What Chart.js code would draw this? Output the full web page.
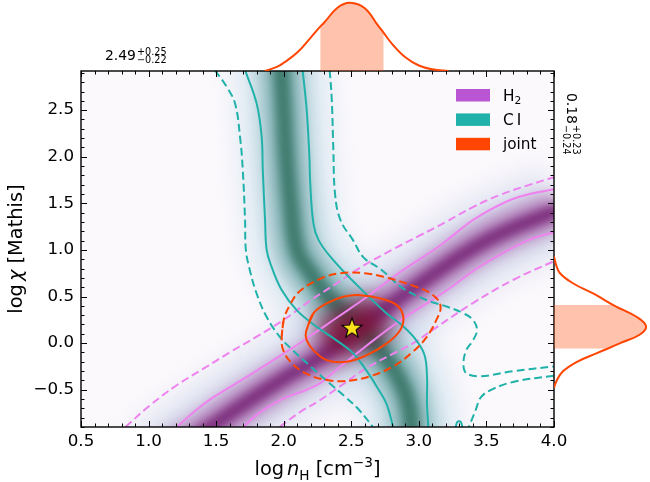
<!DOCTYPE html>
<html><head><meta charset="utf-8">
<script src="https://cdn.jsdelivr.net/npm/chart.js@4.4.1/dist/chart.umd.min.js"></script>
<style>
html,body{margin:0;padding:0;background:#fff;}
#wrap{position:relative;width:650px;height:482px;overflow:hidden;background:#fff;}
#wrap canvas{position:absolute;}
#cMain{left:0;top:0;}
#cTop{left:81px;top:0;}
#cRight{left:554px;top:71px;}
</style></head><body>
<div id="wrap">
<canvas id="cMain" width="650" height="482"></canvas>
<canvas id="cTop" width="473" height="71"></canvas>
<canvas id="cRight" width="96" height="356"></canvas>
</div>
<script>
// ================= DATA =================
const xTickValues = [0.5, 1.0, 1.5, 2.0, 2.5, 3.0, 3.5, 4.0];
const yTickValues = [-0.5, 0.0, 0.5, 1.0, 1.5, 2.0, 2.5];
const xRange = [0.5, 4.0];
const yRange = [-0.9, 2.92];

// H2 contours (68% solid, 95% dashed)
const h2SolidUpperX = [1.21, 1.35, 1.48, 1.73, 1.97, 2.17, 2.40, 2.62, 2.86, 3.16, 3.40, 3.65, 3.82, 4.0];
const h2SolidUpperY = [-0.90, -0.72, -0.58, -0.36, -0.14, 0.05, 0.28, 0.50, 0.76, 1.05, 1.32, 1.52, 1.60, 1.65];
const h2SolidLowerX = [1.70, 1.80, 1.90, 2.02, 2.17, 2.27, 2.37, 2.49, 2.61, 2.86, 3.21, 3.45, 3.80, 4.0];
const h2SolidLowerY = [-0.90, -0.77, -0.67, -0.58, -0.50, -0.43, -0.31, -0.17, -0.03, 0.24, 0.57, 0.82, 1.10, 1.19];
const h2DashUpperX = [0.83, 1.0, 1.2, 1.4, 1.6, 1.8, 2.0, 2.2, 2.4, 2.6, 2.8, 3.0, 3.2, 3.4, 3.6, 3.8, 4.0];
const h2DashUpperY = [-0.90, -0.68, -0.46, -0.28, -0.10, 0.07, 0.25, 0.46, 0.65, 0.84, 1.00, 1.15, 1.30, 1.46, 1.59, 1.69, 1.78];
const h2DashLowerX = [1.97, 2.12, 2.27, 2.45, 2.61, 2.80, 2.96, 3.10, 3.40, 3.70, 4.0];
const h2DashLowerY = [-0.90, -0.74, -0.61, -0.43, -0.27, -0.12, 0.0, 0.14, 0.43, 0.68, 0.88];

// C I contours
const ciSolidLeftX = [1.714, 1.80, 1.837, 1.845, 1.862, 1.874, 1.91, 1.985, 2.096, 2.244, 2.39, 2.515, 2.61, 2.69, 2.76, 2.81];
const ciSolidLeftY = [2.93, 2.57, 2.21, 1.86, 1.32, 1.0, 0.82, 0.57, 0.354, 0.175, 0.03, -0.11, -0.29, -0.47, -0.65, -0.9];
const ciSolidRightX = [2.14, 2.17, 2.19, 2.195, 2.22, 2.26, 2.367, 2.53, 2.76, 2.86, 2.97, 3.04, 3.06, 3.06, 3.07];
const ciSolidRightY = [2.93, 2.5, 2.0, 1.75, 1.28, 1.10, 0.89, 0.64, 0.32, 0.21, 0.05, -0.12, -0.35, -0.65, -0.9];
const ciDashLeftX = [1.49, 1.578, 1.64, 1.677, 1.697, 1.714, 1.72, 1.75, 1.80, 1.874, 1.97, 2.07, 2.19, 2.33, 2.45, 2.56, 2.66];
const ciDashLeftY = [2.93, 2.75, 2.57, 2.21, 1.86, 1.32, 1.0, 0.78, 0.53, 0.28, 0.07, -0.08, -0.24, -0.42, -0.57, -0.72, -0.9];
const ciDashRightX = [2.34, 2.355, 2.367, 2.38, 2.42, 2.515, 2.59, 2.72, 2.88, 3.06, 3.21, 3.33, 3.40, 3.43, 3.40, 3.35, 3.33, 3.35, 3.45, 3.70, 4.0];
const ciDashRightY = [2.93, 2.63, 2.09, 1.60, 1.32, 1.10, 0.92, 0.79, 0.59, 0.46, 0.39, 0.32, 0.25, 0.14, 0.03, -0.08, -0.22, -0.32, -0.355, -0.30, -0.25];
const ciDashLowerX = [4.0, 3.72, 3.55, 3.46, 3.42, 3.37];
const ciDashLowerY = [-0.35, -0.41, -0.49, -0.58, -0.72, -0.9];
const ciSolidBumpX = [3.27, 3.285, 3.31, 3.325];
const ciSolidBumpY = [-0.92, -0.845, -0.845, -0.92];

// joint contours
const jointSolidX = [2.165, 2.219, 2.318, 2.441, 2.565, 2.713, 2.836, 2.885, 2.861, 2.762, 2.614, 2.466, 2.318, 2.219, 2.17, 2.165, 2.219];
const jointSolidY = [0.121, 0.319, 0.426, 0.497, 0.515, 0.48, 0.408, 0.282, 0.139, -0.003, -0.129, -0.2, -0.182, -0.075, 0.032, 0.121, 0.319];
const jointDashX = [1.985, 2.0, 2.05, 2.12, 2.27, 2.42, 2.6, 2.74, 2.95, 3.1, 3.16, 3.13, 3.05, 2.95, 2.81, 2.65, 2.5, 2.34, 2.17, 2.05, 1.995, 1.985, 2.0];
const jointDashY = [0.06, 0.25, 0.42, 0.56, 0.69, 0.75, 0.75, 0.71, 0.62, 0.52, 0.40, 0.25, 0.05, -0.10, -0.25, -0.35, -0.40, -0.40, -0.33, -0.20, -0.07, 0.06, 0.25];

// best-fit point
const bestX = [2.505];
const bestY = [0.165];

// likelihood ridges (density bands)
const ciRidgeX = [1.96, 1.98, 2.0, 2.02, 2.05, 2.1, 2.2, 2.33, 2.5, 2.67, 2.8, 2.89, 2.93, 2.95, 2.97];
const ciRidgeY = [3.3, 2.95, 2.5, 2.0, 1.5, 1.0, 0.75, 0.5, 0.25, 0.0, -0.25, -0.5, -0.7, -0.95, -1.3];
const h2RidgeX = [1.05, 1.4, 1.7, 2.0, 2.27, 2.5, 3.0, 3.5, 4.05, 4.4];
const h2RidgeY = [-1.3, -0.96, -0.66, -0.38, -0.15, 0.1, 0.63, 1.1, 1.44, 1.65];
const jointCoreX = [2.3, 2.5, 2.72];
const jointCoreY = [0.03, 0.16, 0.29];

// marginal posteriors (relative height)
const topCurveX = [1.86, 1.95, 2.00, 2.10, 2.20, 2.27, 2.30, 2.40, 2.49, 2.60, 2.70, 2.74, 2.80, 2.90, 3.00, 3.10, 3.22];
const topCurveY = [0.0, 0.06, 0.12, 0.27, 0.49, 0.65, 0.71, 0.93, 1.00, 0.92, 0.66, 0.56, 0.40, 0.20, 0.08, 0.025, 0.0];
const topShadeX = [2.27, 2.30, 2.40, 2.49, 2.60, 2.70, 2.74];
const topShadeY = [0.65, 0.71, 0.93, 1.00, 0.92, 0.66, 0.56];
const rightCurveY = [-0.48, -0.40, -0.30, -0.20, -0.11, -0.06, 0.0, 0.09, 0.18, 0.28, 0.39, 0.41, 0.53, 0.64, 0.75, 0.85, 0.93];
const rightCurveX = [0.0, 0.03, 0.10, 0.25, 0.46, 0.58, 0.72, 0.93, 1.00, 0.90, 0.68, 0.64, 0.43, 0.21, 0.065, 0.02, 0.0];
const rightShadeY = [-0.06, 0.0, 0.09, 0.18, 0.28, 0.39, 0.41];
const rightShadeX = [0.58, 0.72, 0.93, 1.00, 0.90, 0.68, 0.64];

const legendLabels = ['H_2', 'C\u2009I', 'joint'];
const legendColors = ['#BA55D3', '#20B2AA', '#FF4500'];
const nAnnot = {value: '2.49', plus: '+0.25', minus: '\u22120.22'};
const chiAnnot = {value: '0.18', plus: '+0.23', minus: '\u22120.24'};

// ================= HELPERS =================
const FF = "'DejaVu Sans', sans-serif";
const H2C = '#EE82EE', CIC = '#20B2AA', JC = '#FF4500';
const DASH = [8, 4];
function pts(xs, ys) { return xs.map((x, i) => ({x: x, y: ys[i]})); }
function lineDS(xs, ys, color, width, dash, order) {
  return {data: pts(xs, ys), showLine: true, borderColor: color, backgroundColor: color,
    borderWidth: width, borderDash: dash || [], pointRadius: 0, pointHoverRadius: 0,
    tension: 0.4, fill: false, clip: 0, order: order};
}
function bandDS(xs, ys, color, width, blur, order) {
  const d = lineDS(xs, ys, color, width, null, order);
  d.blur = blur; d.borderCapStyle = 'butt'; d.borderJoinStyle = 'round';
  return d;
}
function fmt(v) { return (v < 0 ? '\u2212' : '') + Math.abs(v).toFixed(1); }

// star marker image
const star = document.createElement('canvas');
star.width = 24; star.height = 24;
(function () {
  const c = star.getContext('2d');
  c.beginPath();
  for (let i = 0; i < 10; i++) {
    const r = i % 2 === 0 ? 10.5 : 4.3;
    const a = -Math.PI / 2 + i * Math.PI / 5;
    const px = 12 + r * Math.cos(a), py = 12.8 + r * Math.sin(a);
    if (i === 0) c.moveTo(px, py); else c.lineTo(px, py);
  }
  c.closePath();
  c.fillStyle = '#FFE21A'; c.fill();
  c.lineWidth = 1.1; c.strokeStyle = '#000'; c.lineJoin = 'miter'; c.stroke();
})();

// text runs (mathtext-like)
function runsWidth(ctx, runs) {
  let w = 0;
  for (const r of runs) { ctx.font = (r.it ? 'italic ' : '') + r.s + 'px ' + FF; w += ctx.measureText(r.t).width + (r.gap || 0); }
  return w;
}
function drawRuns(ctx, x, y, runs) {
  let cx = x;
  for (const r of runs) {
    ctx.font = (r.it ? 'italic ' : '') + r.s + 'px ' + FF;
    ctx.fillText(r.t, cx, y + (r.dy || 0));
    cx += ctx.measureText(r.t).width + (r.gap || 0);
  }
}
function drawPM(ctx, x, y, a, up, down) {
  ctx.font = '13.9px ' + FF;
  ctx.textBaseline = 'alphabetic'; ctx.textAlign = 'left';
  ctx.fillText(a.value, x, y);
  const w = ctx.measureText(a.value).width;
  ctx.font = '9.7px ' + FF;
  ctx.fillText(a.plus, x + w + 1, y - up);
  ctx.fillText(a.minus, x + w + 1, y + down);
}

// ================= PLUGINS =================
const blurPlugin = {
  id: 'blurBands',
  beforeDatasetDraw(chart, args) {
    const ds = chart.data.datasets[args.index];
    if (ds.blur) { chart.ctx.save(); chart.ctx.filter = 'blur(' + ds.blur + 'px)'; }
  },
  afterDatasetDraw(chart, args) {
    const ds = chart.data.datasets[args.index];
    if (ds.blur) { chart.ctx.restore(); }
  }
};
const bgPlugin = {
  id: 'plotBg',
  beforeDatasetsDraw(chart) {
    const {ctx, chartArea: a} = chart;
    ctx.save(); ctx.fillStyle = '#fcf9fc'; ctx.fillRect(a.left, a.top, a.width, a.height); ctx.restore();
  }
};
const framePlugin = {
  id: 'frameTicks',
  afterDatasetsDraw(chart) {
    const {ctx, chartArea: a, scales: {x, y}} = chart;
    ctx.save();
    ctx.strokeStyle = '#000'; ctx.lineWidth = 1;
    ctx.beginPath();
    const MJ = 6, MN = 3.5;
    const xmaj = new Set(xTickValues.map(v => Math.round(v * 10)));
    for (let k = Math.round(xRange[0] * 10); k <= Math.round(xRange[1] * 10); k++) {
      const L = xmaj.has(k) ? MJ : MN;
      const p = Math.round(x.getPixelForValue(k / 10)) + 0.5;
      ctx.moveTo(p, a.bottom); ctx.lineTo(p, a.bottom - L);
      ctx.moveTo(p, a.top); ctx.lineTo(p, a.top + L);
    }
    const ymaj = new Set(yTickValues.map(v => Math.round(v * 10)));
    for (let k = Math.round(yRange[0] * 10); k <= Math.floor(yRange[1] * 10); k++) {
      const L = ymaj.has(k) ? MJ : MN;
      const p = Math.round(y.getPixelForValue(k / 10)) + 0.5;
      ctx.moveTo(a.left, p); ctx.lineTo(a.left + L, p);
      ctx.moveTo(a.right, p); ctx.lineTo(a.right - L, p);
    }
    ctx.stroke();
    ctx.lineWidth = 1.4;
    ctx.strokeRect(a.left, a.top, a.width, a.height);
    ctx.restore();
  }
};
const textPlugin = {
  id: 'texts',
  afterDraw(chart) {
    const {ctx, chartArea: a} = chart;
    ctx.save();
    ctx.fillStyle = '#000'; ctx.textBaseline = 'alphabetic'; ctx.textAlign = 'left';
    // x title
    const S = 19.4, s = 13.6;
    const xr = [{t: 'log', s: S, gap: 3}, {t: 'n', s: S, it: true}, {t: 'H', s: s, dy: 4.5}, {t: ' [cm', s: S}, {t: '\u22123', s: s, dy: -8}, {t: ']', s: S}];
    const xw = runsWidth(ctx, xr);
    drawRuns(ctx, (a.left + a.right) / 2 - xw / 2, 475, xr);
    // y title
    const yr = [{t: 'log', s: S, gap: 3}, {t: '\u03c7', s: S, it: true}, {t: ' [Mathis]', s: S}];
    const yw = runsWidth(ctx, yr);
    ctx.save();
    ctx.translate(22, (a.top + a.bottom) / 2 + yw / 2);
    ctx.rotate(-Math.PI / 2);
    drawRuns(ctx, 0, 0, yr);
    ctx.restore();
    // annotations
    drawPM(ctx, 105, 60, nAnnot, 5.2, 3.4);
    ctx.save();
    ctx.translate(567, 93);
    ctx.rotate(Math.PI / 2);
    drawPM(ctx, 0, 0, chiAnnot, 6, 4);
    ctx.restore();
    // legend
    const lx = a.right - 98, ly = a.top + 18;
    legendLabels.forEach((lab, i) => {
      const top = ly + i * 24.4;
      ctx.fillStyle = legendColors[i];
      ctx.fillRect(lx, top, 34, 12.5);
      ctx.fillStyle = '#000';
      const parts = lab.split('_');
      const runs = [{t: parts[0], s: 15.3}];
      if (parts[1]) runs.push({t: parts[1], s: 10.7, dy: 3.5});
      drawRuns(ctx, lx + 47, top + 11.5, runs);
    });
    ctx.restore();
  }
};

// ================= MAIN CHART =================
const datasets = [
  // density bands (drawn first: high order)
  bandDS(ciRidgeX, ciRidgeY, 'rgba(178,212,230,0.55)', 84, 16, 30),
  bandDS(h2RidgeX, h2RidgeY, 'rgba(186,200,228,0.55)', 80, 16, 29),
  bandDS(ciRidgeX, ciRidgeY, 'rgba(100,160,158,0.75)', 40, 9, 28),
  bandDS(h2RidgeX, h2RidgeY, 'rgba(160,80,160,0.72)', 36, 9, 27),
  bandDS(ciRidgeX, ciRidgeY, 'rgba(58,118,104,0.9)', 16, 4, 26),
  bandDS(h2RidgeX, h2RidgeY, 'rgba(118,38,118,0.85)', 14, 4, 25),
  bandDS(jointCoreX, jointCoreY, 'rgba(122,18,52,0.92)', 44, 12, 24),
  // contours
  lineDS(h2DashUpperX, h2DashUpperY, H2C, 2, DASH, 10),
  lineDS(h2DashLowerX, h2DashLowerY, H2C, 2, DASH, 10),
  lineDS(h2SolidUpperX, h2SolidUpperY, H2C, 2, null, 10),
  lineDS(h2SolidLowerX, h2SolidLowerY, H2C, 2, null, 10),
  lineDS(ciDashLeftX, ciDashLeftY, CIC, 2, DASH, 9),
  lineDS(ciDashRightX, ciDashRightY, CIC, 2, DASH, 9),
  lineDS(ciDashLowerX, ciDashLowerY, CIC, 2, DASH, 9),
  lineDS(ciSolidLeftX, ciSolidLeftY, CIC, 2, null, 9),
  lineDS(ciSolidRightX, ciSolidRightY, CIC, 2, null, 9),
  lineDS(ciSolidBumpX, ciSolidBumpY, CIC, 2, null, 9),
  lineDS(jointDashX, jointDashY, JC, 2, DASH, 5),
  lineDS(jointSolidX, jointSolidY, JC, 2, null, 5),
  {data: pts(bestX, bestY), pointStyle: star, pointRadius: 10, showLine: false, order: 0, clip: false}
];

new Chart(document.getElementById('cMain'), {
  type: 'scatter',
  data: {datasets: datasets},
  options: {
    responsive: false, animation: false, devicePixelRatio: 1,
    layout: {padding: {left: 0, top: 71, right: 96, bottom: 0}},
    plugins: {legend: {display: false}, tooltip: {enabled: false}},
    events: [],
    scales: {
      x: {
        type: 'linear', min: xRange[0], max: xRange[1],
        afterFit: s => { s.height = 55; },
        afterBuildTicks: s => { s.ticks = xTickValues.map(v => ({value: v})); },
        grid: {display: false, drawTicks: false}, border: {display: false},
        ticks: {font: {family: FF, size: 16.7}, color: '#000', padding: 5, maxRotation: 0, autoSkip: false, callback: v => fmt(v)}
      },
      y: {
        type: 'linear', min: yRange[0], max: yRange[1],
        afterFit: s => { s.width = 81; },
        afterBuildTicks: s => { s.ticks = yTickValues.map(v => ({value: v})); },
        grid: {display: false, drawTicks: false}, border: {display: false},
        ticks: {font: {family: FF, size: 16.7}, color: '#000', padding: 7, autoSkip: false, callback: v => fmt(v)}
      }
    }
  },
  plugins: [bgPlugin, blurPlugin, framePlugin, textPlugin]
});

// ================= TOP MARGINAL =================
new Chart(document.getElementById('cTop'), {
  type: 'scatter',
  data: {datasets: [
    {data: pts(topShadeX, topShadeY), showLine: true, fill: 'origin', backgroundColor: 'rgba(255,69,0,0.32)', borderWidth: 0, borderColor: 'rgba(0,0,0,0)', pointRadius: 0, tension: 0.4, order: 2},
    {data: pts(topCurveX, topCurveY), showLine: true, fill: false, borderColor: JC, borderWidth: 2, pointRadius: 0, tension: 0.4, order: 1}
  ]},
  options: {
    responsive: false, animation: false, devicePixelRatio: 1, events: [],
    layout: {padding: 0},
    plugins: {legend: {display: false}, tooltip: {enabled: false}},
    scales: {x: {display: false, min: xRange[0], max: xRange[1]}, y: {display: false, min: 0, max: 1.04}}
  }
});

// ================= RIGHT MARGINAL =================
new Chart(document.getElementById('cRight'), {
  type: 'scatter',
  data: {datasets: [
    {data: pts(rightShadeX, rightShadeY), showLine: true, fill: 'origin', backgroundColor: 'rgba(255,69,0,0.32)', borderWidth: 0, borderColor: 'rgba(0,0,0,0)', pointRadius: 0, tension: 0.4, order: 2},
    {data: pts(rightCurveX, rightCurveY), showLine: true, fill: false, borderColor: JC, borderWidth: 2, pointRadius: 0, tension: 0.4, order: 1}
  ]},
  options: {
    indexAxis: 'y',
    responsive: false, animation: false, devicePixelRatio: 1, events: [],
    layout: {padding: 0},
    plugins: {legend: {display: false}, tooltip: {enabled: false}},
    scales: {x: {display: false, min: 0, max: 1.043}, y: {display: false, min: yRange[0], max: yRange[1]}}
  }
});
</script>
</body></html>
